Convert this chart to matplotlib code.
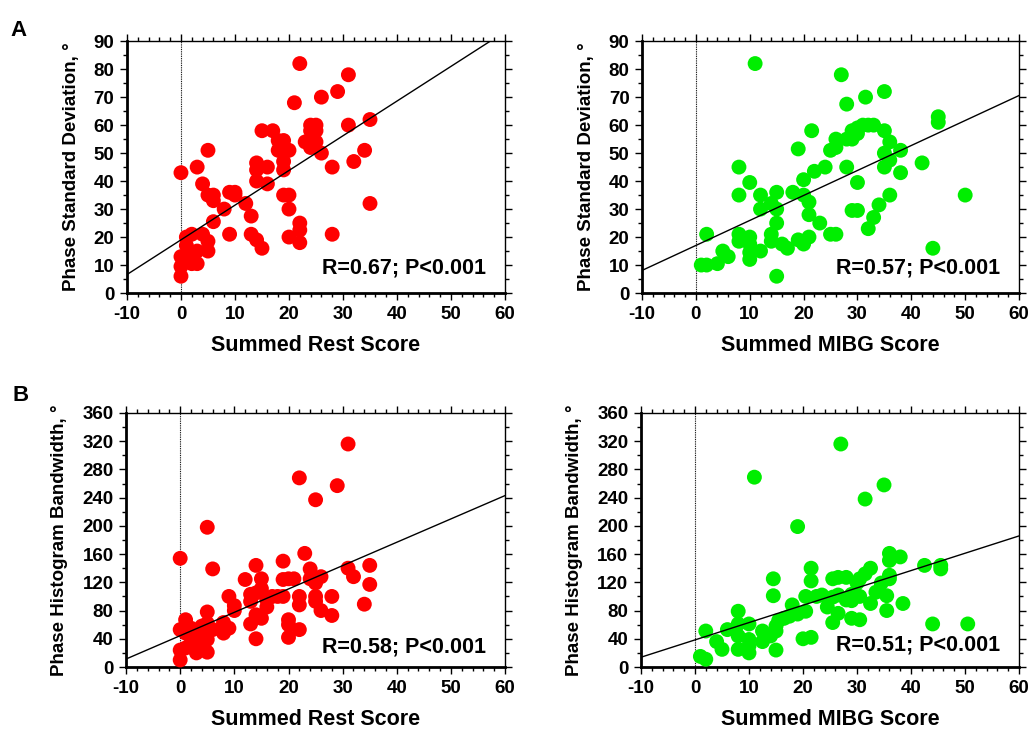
import numpy as np
import matplotlib.pyplot as plt
from matplotlib.ticker import MultipleLocator

plt.rcParams['font.family'] = ['Liberation Sans', 'DejaVu Sans']
plt.rcParams['font.weight'] = 'bold'
plt.rcParams['axes.unicode_minus'] = False

# Panel A, left: summed rest score vs phase SD
rest_a = [22, 31, 29, 26, 21, 35, 31, 24, 25, 25, 24, 23, 25, 24, 26, 15, 17, 18, 19, 18,
          20, 19, 19, 14, 14, 14, 16, 16, 28, 32, 34, 35, 28, 19, 20, 20, 22, 22, 22, 20,
          12, 13, 13, 14, 15, 9, 8, 9, 10, 10, 5, 3, 4, 5, 6, 6, 6, 4, 5, 5,
          0, 2, 1, 1, 0, 0, 0, 3, 3, 1, 2, 2]
psd_rest = [82, 78, 72, 70, 68, 62, 60, 60, 60, 58, 58, 54, 54, 52, 50, 58, 58, 54.5, 54.5, 51,
            51, 47, 44, 46.5, 44, 40, 45, 39, 45, 47, 51, 32, 21, 35, 35, 30, 25, 22.5, 18, 20,
            32, 27.5, 21, 19, 16, 21, 30, 36, 36, 35, 51, 45, 39, 35, 35, 33, 25.5, 21, 18.5, 15,
            43, 21, 20, 17, 13, 9.5, 6, 15, 10.5, 12.5, 10.5, 11]

# Panel A, right: summed MIBG score vs phase SD
mibg_a = [11, 27, 35, 31.5, 28, 45, 45, 21.5, 29, 30, 31, 32, 33, 30, 26, 28, 29, 25, 26, 19,
          35, 36, 38, 35, 36, 35, 42, 38, 36, 34, 33, 32, 29, 30, 30, 28, 24, 22, 20, 20,
          21, 18, 15, 12, 14, 15, 12, 15, 21, 23, 25, 26, 21, 20, 19, 17, 16, 14, 14, 8,
          10, 8, 8, 8, 10, 10, 10, 10, 12, 15, 44, 50, 2, 5, 6, 4, 1, 2]
psd_mibg = [82, 78, 72, 70, 67.5, 63, 61, 58, 58, 59, 60, 60, 60, 57, 55, 55, 55, 51, 52, 51.5,
            58, 54, 51, 50, 47.5, 45, 46.5, 43, 35, 31.5, 27, 23, 29.5, 29.5, 39.5, 45, 45, 43.5, 40.5, 35,
            32.5, 36, 36, 35, 32, 30, 30, 25, 28, 25, 21, 21, 20, 17.5, 19, 16, 17.5, 21, 18.5, 45,
            39.5, 35, 21, 18.5, 20, 17.5, 14.5, 12, 15, 6, 16, 35, 21, 15, 13, 10.5, 10, 10]

# Panel B, left: summed rest score vs histogram bandwidth
rest_b = [31, 22, 29, 25, 5, 0, 6, 23, 19, 14, 35, 31, 32, 35, 34, 28, 28, 26, 25, 25,
          24, 24, 25, 26, 22, 22, 22, 20, 20, 20, 19, 20, 21, 18, 19, 17, 16, 16, 15, 15,
          14, 13, 13, 14, 15, 13, 14, 12, 10, 10, 9, 8, 9, 8, 5, 5, 6, 5, 5, 4,
          4, 3, 3, 1, 0, 1, 2, 2, 1, 0, 0, 3, 4]
phb_rest = [316, 268, 257, 237, 198, 154, 139, 161, 150, 144, 144, 140, 128, 117, 89, 100, 73, 80, 100, 93,
            139, 125, 119, 128, 100, 88, 53, 67, 60, 42, 124, 125, 125, 100, 100, 100, 95, 85, 125, 111,
            105, 103, 93, 74, 69, 61, 40, 124, 87, 80, 100, 63, 55, 48, 78, 62, 53, 39, 21, 58,
            48, 39, 27, 67, 53, 48, 55, 34, 27, 24, 10, 20, 27]

# Panel B, right: summed MIBG score vs histogram bandwidth
mibg_b = [27, 11, 35, 31.5, 19, 36, 36, 38, 42.5, 45.5, 45.5, 36, 36, 34.5, 32.5, 31.5, 30.5, 30, 33.5, 35.5,
          32.5, 35.5, 38.5, 21.5, 21.5, 25.5, 26.5, 28, 14.5, 14.5, 20.5, 22.5, 23.5, 25.5, 26.5, 28, 29, 30.5, 29, 24.5,
          26.5, 25.5, 29, 30.5, 18, 19, 20.5, 17.5, 16.5, 15.5, 15, 15, 14, 20, 21.5, 15, 8, 8, 10, 8,
          10, 10, 10, 8, 12.5, 12.5, 6, 4, 5, 2, 1, 2, 44, 50.5]
phb_mibg = [316, 269, 258, 238, 199, 161, 151, 156, 144, 144, 139, 130, 125, 119, 140, 132, 125, 119, 106, 101,
            90, 80, 90, 140, 122, 125, 127, 127, 125, 101, 100, 100, 102, 99, 102, 95, 94, 100, 103, 85,
            76, 63, 69, 67, 88, 75, 79, 72, 69, 66, 58, 51, 44, 40, 42, 24, 79, 61, 61, 44,
            39, 30, 20, 25, 51, 36, 53, 36, 25, 51, 15, 11, 61, 61]

# regression lines (intercept, slope)
fit_a_rest = (19.0, 1.24)
fit_a_mibg = (17.0, 0.893)
fit_b_rest = (44.4, 3.31)
fit_b_mibg = (38.4, 2.456)

r_a_rest = 'R=0.67; P<0.001'
r_a_mibg = 'R=0.57; P<0.001'
r_b_rest = 'R=0.58; P<0.001'
r_b_mibg = 'R=0.51; P<0.001'

RED = '#ff0000'
GREEN = '#00ee00'


def draw_panel(ax, x, y, fit, rtext, color, xlabel, ylabel, ymax, ystep, yminor, rtext_y):
    ax.scatter(x, y, s=115, color=color, edgecolors='none', zorder=3, clip_on=False)
    fx = np.array([-10, 60])
    ax.plot(fx, fit[0] + fit[1] * fx, color='black', lw=1.0, zorder=4)
    ax.axvline(0, color='black', ls=(0, (0.8, 0.8)), lw=0.8, zorder=2)

    ax.set_xlim(-10, 60)
    ax.set_ylim(0, ymax)
    ax.xaxis.set_major_locator(MultipleLocator(10))
    ax.xaxis.set_minor_locator(MultipleLocator(2))
    ax.yaxis.set_major_locator(MultipleLocator(ystep))
    ax.yaxis.set_minor_locator(MultipleLocator(yminor))

    ax.tick_params(which='both', direction='out', top=True, right=True,
                   labeltop=False, labelright=False, labelsize=13.5, width=1)
    ax.tick_params(which='major', length=5, pad=4)
    ax.tick_params(which='minor', length=3)

    ax.spines['left'].set_linewidth(2)
    ax.spines['bottom'].set_linewidth(2)
    ax.spines['top'].set_linewidth(1)
    ax.spines['right'].set_linewidth(1)

    ax.set_xlabel(xlabel, fontsize=15.5, fontweight='bold', labelpad=9)
    ax.set_ylabel(ylabel, fontsize=13.5, fontweight='bold', labelpad=10)
    ax.text(0.95, rtext_y, rtext, transform=ax.transAxes, ha='right', va='center',
            fontsize=15.5, fontweight='bold', zorder=5)


fig = plt.figure(figsize=(10.33, 7.30), dpi=100)
ax1 = fig.add_axes([0.1229, 0.5986, 0.366, 0.345])
ax2 = fig.add_axes([0.6215, 0.5986, 0.365, 0.345])
ax3 = fig.add_axes([0.1220, 0.0863, 0.367, 0.348])
ax4 = fig.add_axes([0.6205, 0.0863, 0.366, 0.348])

draw_panel(ax1, rest_a, psd_rest, fit_a_rest, r_a_rest, RED,
           'Summed Rest Score', 'Phase Standard Deviation, °', 90, 10, 5, 0.10)
draw_panel(ax2, mibg_a, psd_mibg, fit_a_mibg, r_a_mibg, GREEN,
           'Summed MIBG Score', 'Phase Standard Deviation, °', 90, 10, 5, 0.10)
draw_panel(ax3, rest_b, phb_rest, fit_b_rest, r_b_rest, RED,
           'Summed Rest Score', 'Phase Histogram Bandwidth, °', 360, 40, 20, 0.08)
draw_panel(ax4, mibg_b, phb_mibg, fit_b_mibg, r_b_mibg, GREEN,
           'Summed MIBG Score', 'Phase Histogram Bandwidth, °', 360, 40, 20, 0.085)

fig.text(0.010, 0.958, 'A', fontsize=16, fontweight='bold', va='center')
fig.text(0.012, 0.458, 'B', fontsize=16, fontweight='bold', va='center')

fig.savefig('out.png', dpi=100)
